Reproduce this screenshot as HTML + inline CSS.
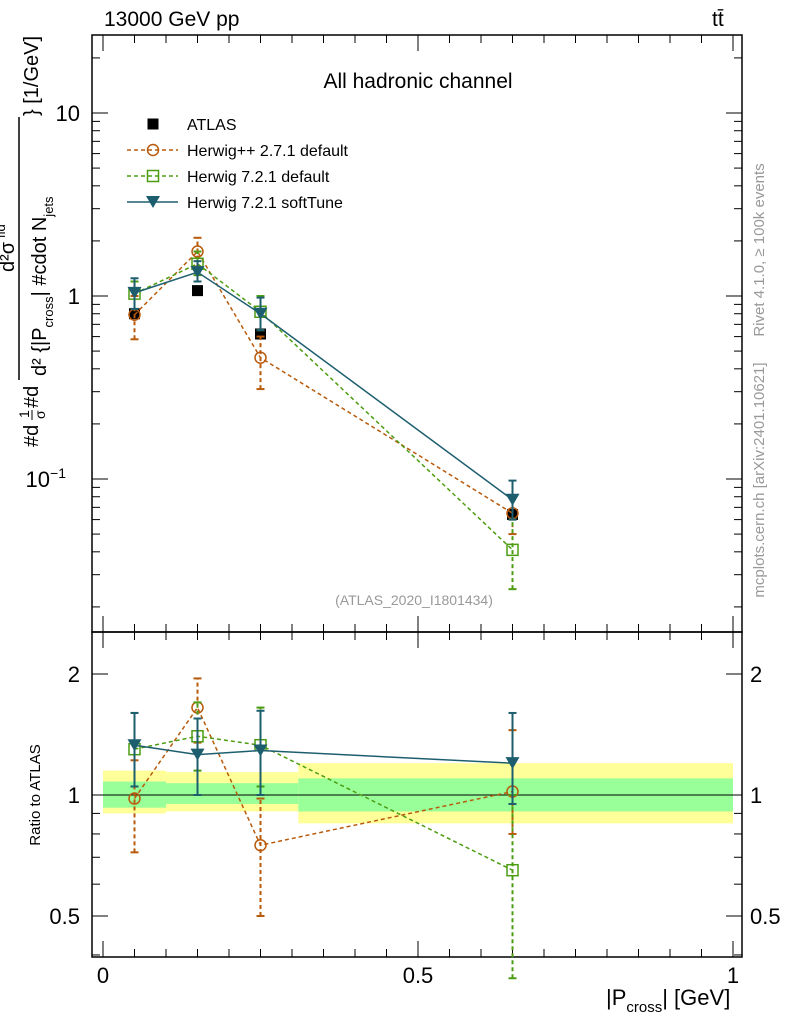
<!DOCTYPE html>
<html><head><meta charset="utf-8"><style>
body{margin:0;background:#fff;font-family:"Liberation Sans",sans-serif}
svg text{font-family:"Liberation Sans",sans-serif}
</style></head><body>
<svg id="c" width="786" height="1024" viewBox="0 0 786 1024" xmlns="http://www.w3.org/2000/svg"></svg>
<script>
const xs=[0.05,0.15,0.25,0.65];
const atlas=[0.80,1.07,0.62,0.064];
const hpp=[0.79,1.75,0.46,0.065];
const hppLo=[0.58,1.45,0.31,0.05];
const hppHi=[1.0,2.08,0.60,0.08];
const hdef=[1.03,1.50,0.82,0.041];
const hdefLo=[0.85,1.30,0.65,0.025];
const hdefHi=[1.20,1.75,1.0,0.06];
const hsoft=[1.04,1.35,0.80,0.077];
const hsoftLo=[0.85,1.20,0.65,0.06];
const hsoftHi=[1.25,1.55,0.98,0.098];
const rHpp=[0.98,1.65,0.75,1.02];
const rHppLo=[0.72,1.35,0.50,0.80];
const rHppHi=[1.22,1.95,0.98,1.45];
const rDef=[1.30,1.40,1.33,0.65];
const rDefLo=[1.05,1.15,1.05,0.35];
const rDefHi=[1.60,1.70,1.65,1.0];
const rSoft=[1.33,1.26,1.29,1.20];
const rSoftLo=[1.05,1.0,1.0,0.95];
const rSoftHi=[1.60,1.55,1.62,1.60];
const binEdges=[0,0.1,0.31,1.0];
const yellowLo=[0.90,0.91,0.85];
const yellowHi=[1.15,1.14,1.20];
const greenLo=[0.93,0.95,0.91];
const greenHi=[1.08,1.07,1.10];

const svg=document.getElementById('c');const NS='http://www.w3.org/2000/svg';
function el(t,a,p){const e=document.createElementNS(NS,t);for(const k in a)e.setAttribute(k,a[k]);(p||svg).appendChild(e);return e;}
function tx(s,x,y,sz,anch,fill,p){const e=el('text',{x:x,y:y,'font-size':sz,'text-anchor':anch||'start',fill:fill||'#000'},p);e.textContent=s;return e;}
const X=v=>103+v*630;
const Y=v=>296-Math.log10(v)*183;
const R=v=>795-Math.log2(v)*121;
const L=92,Rt=742,T=35,M=632,B=957;

for(let i=0;i<3;i++){
 const y=el('rect',{x:X(binEdges[i]),y:R(yellowHi[i]),width:X(binEdges[i+1])-X(binEdges[i]),height:R(yellowLo[i])-R(yellowHi[i]),fill:'#ffff99'});
 
 const g=el('rect',{x:X(binEdges[i]),y:R(greenHi[i]),width:X(binEdges[i+1])-X(binEdges[i]),height:R(greenLo[i])-R(greenHi[i]),fill:'#99ff99'});
 
}
el('line',{x1:L,x2:Rt,y1:R(1),y2:R(1),stroke:'#000','stroke-width':1});

el('rect',{x:L,y:T,width:Rt-L,height:M-T,fill:'none',stroke:'#000','stroke-width':1.5});
el('rect',{x:L,y:M,width:Rt-L,height:B-M,fill:'none',stroke:'#000','stroke-width':1.5});

for(let d=-2;d<=1;d++)for(let m=1;m<10;m++){const v=m*Math.pow(10,d);const y=Y(v);if(y<T||y>M)continue;const len=m==1?16:8;
 el('line',{x1:L,x2:L+len,y1:y,y2:y,stroke:'#000'});el('line',{x1:Rt,x2:Rt-len,y1:y,y2:y,stroke:'#000'});}
tx('10',80,121,22,'end');tx('1',80,304,22,'end');
const t1=tx('10',80,487,22,'end');const sup=el('tspan',{dy:-9,'font-size':14});sup.textContent='−1';t1.setAttribute('x',66);t1.appendChild(sup);
[0.4,0.5,0.6,0.7,0.8,0.9,1,2].forEach(v=>{const y=R(v);if(y<M||y>B)return;const len=(v==1||v==2||v==0.5)?16:8;
 el('line',{x1:L,x2:L+len,y1:y,y2:y,stroke:'#000'});el('line',{x1:Rt,x2:Rt-len,y1:y,y2:y,stroke:'#000'});});
tx('2',80,682,22,'end');tx('1',80,803,22,'end');tx('0.5',80,924,22,'end');
tx('2',750,682,22);tx('1',750,803,22);tx('0.5',750,924,22);
for(let i=0;i<=20;i++){const v=i*0.05;const len=i%10==0?16:8;[T,M].forEach(yy=>el('line',{x1:X(v),x2:X(v),y1:yy,y2:yy+len,stroke:'#000'}));
 [M,B].forEach(yy=>el('line',{x1:X(v),x2:X(v),y1:yy,y2:yy-len,stroke:'#000'}));}
tx('0',X(0),983,22,'middle');tx('0.5',X(0.5),983,22,'middle');tx('1',X(1),983,22,'middle');
const xt=tx('|P',606,1005,22);const sb=el('tspan',{dy:7,'font-size':15});sb.textContent='cross';xt.appendChild(sb);const rs=el('tspan',{dy:-7});rs.textContent='| [GeV]';xt.appendChild(rs);

tx('13000 GeV pp',104,26,21);tx('tt̄',712,26,21);
tx('All hadronic channel',418,88,21,'middle');
tx('(ATLAS_2020_I1801434)',414,605,14,'middle','#999');
let g=el('g',{transform:'translate(764,250) rotate(-90)'});tx('Rivet 4.1.0, ≥ 100k events',0,0,15,'middle','#999',g);
g=el('g',{transform:'translate(764,480) rotate(-90)'});tx('mcplots.cern.ch [arXiv:2401.10621]',0,0,15,'middle','#999',g);
g=el('g',{transform:'translate(40,795) rotate(-90)'});tx('Ratio to ATLAS',0,0,15,'middle','#000',g);
// y title (rotated coordinates: x = -y)
g=el('g',{transform:'rotate(-90)'});
tx('#d',-447,38,20,'start','#000',g);tx('1',-418,29,14,'start','#000',g);el('line',{x1:-420,x2:-410,y1:32,y2:32,stroke:'#000'},g);tx('σ',-419,45,14,'start','#000',g);
tx('#d',-408,38,20,'start','#000',g);el('line',{x1:-380,x2:-117,y1:19,y2:19,stroke:'#000','stroke-width':1.5},g);
tx('d²σ',-272,14,20,'start','#000',g);tx('fid',-238,5,13,'start','#000',g);
const den=tx('d² {|P',-376,46,20,'start','#000',g);const s1=el('tspan',{dy:7,'font-size':13},den);s1.textContent='cross';const s2=el('tspan',{dy:-7},den);s2.textContent='| #cdot N';const s3=el('tspan',{dy:7,'font-size':13},den);s3.textContent='jets';
tx('} [1/GeV]',-116,38,20,'start','#000',g);

const C1='#b85a0c',C2='#4c9d12',C3='#1d5e6e';
function series(vals,lo,hi,fy,col,dash,mk,name){
 const gg=el('g',{});
 for(let i=0;i<xs.length;i++){el('line',{x1:X(xs[i]),x2:X(xs[i]),y1:fy(lo[i]),y2:fy(hi[i]),stroke:col,'stroke-width':2,'stroke-dasharray':dash||''},gg);
  [lo[i],hi[i]].forEach(v=>el('line',{x1:X(xs[i])-4,x2:X(xs[i])+4,y1:fy(v),y2:fy(v),stroke:col,'stroke-width':2},gg));}
 el('polyline',{points:xs.map((x,i)=>X(x)+','+fy(vals[i])).join(' '),fill:'none',stroke:col,'stroke-width':1.5,'stroke-dasharray':dash||''},gg);
 xs.forEach((x,i)=>marker(mk,X(x),fy(vals[i]),col,gg));
}
function marker(mk,x,y,col,p){
 if(mk=='o')el('circle',{cx:x,cy:y,r:5.5,fill:'none',stroke:col,'stroke-width':1.5},p);
 else if(mk=='s')el('rect',{x:x-5.5,y:y-5.5,width:11,height:11,fill:'none',stroke:col,'stroke-width':1.5},p);
 else if(mk=='v')el('polygon',{points:`${x-7},${y-6} ${x+7},${y-6} ${x},${y+6}`,fill:col},p);
 else if(mk=='S')el('rect',{x:x-5.5,y:y-5.5,width:11,height:11,fill:'#000'},p);
}
const ag=el('g',{});
xs.forEach((x,i)=>marker('S',X(x),Y(atlas[i]),'#000',ag));
series(hpp,hppLo,hppHi,Y,C1,'4,3','o','herwigpp-series');
series(hdef,hdefLo,hdefHi,Y,C2,'4,3','s','herwig-default-series');
series(hsoft,hsoftLo,hsoftHi,Y,C3,'','v','herwig-softtune-series');
series(rHpp,rHppLo,rHppHi,R,C1,'4,3','o','ratio-herwigpp');
series(rDef,rDefLo,rDefHi,R,C2,'4,3','s','ratio-herwig-default');
series(rSoft,rSoftLo,rSoftHi,R,C3,'','v','ratio-herwig-softtune');

const lg=el('g',{});
const items=[['ATLAS','S','#000',null],['Herwig++ 2.7.1 default','o',C1,'4,3'],['Herwig 7.2.1 default','s',C2,'4,3'],['Herwig 7.2.1 softTune','v',C3,'']];
items.forEach((it,i)=>{const y=124+i*26;
 if(it[3]!==null)el('line',{x1:127,x2:178,y1:y,y2:y,stroke:it[2],'stroke-width':1.5,'stroke-dasharray':it[3]},lg);
 marker(it[1],153,y,it[2],lg);tx(it[0],187,y+6,16,'start','#000',lg);});
</script>
</body></html>
